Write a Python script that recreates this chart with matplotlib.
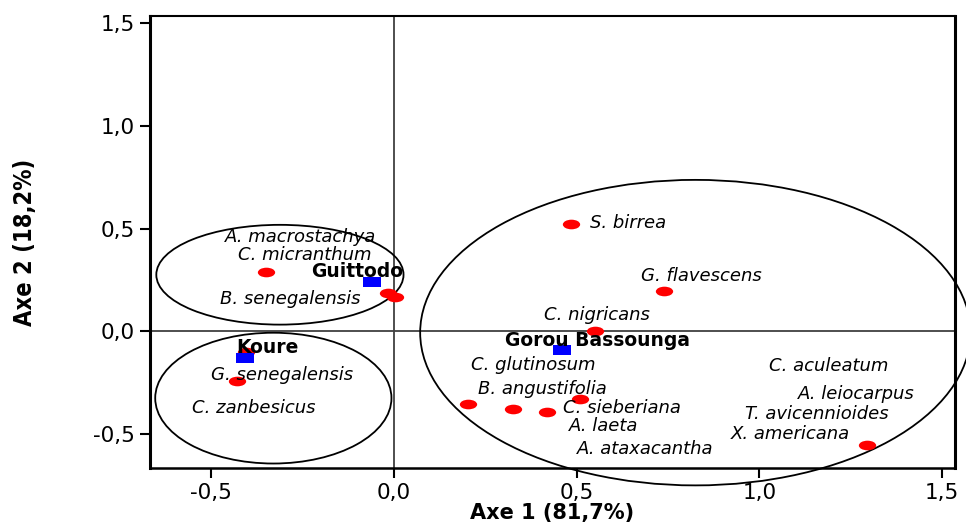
import matplotlib.pyplot as plt
from matplotlib.markers import MarkerStyle
from matplotlib.patches import Ellipse
from matplotlib.transforms import Affine2D

# Species points (Axe 1, Axe 2)
sp_x = [0.486, 0.740, 0.551, -0.349, -0.015, 0.004, -0.403, -0.428,
        0.204, 0.327, 0.420, 0.510, 1.293]
sp_y = [0.523, 0.197, 0.000, 0.289, 0.187, 0.168, -0.100, -0.245,
        -0.357, -0.377, -0.396, -0.328, -0.552]

# Sites
site_names = ["Guittodo", "Koure", "Gorou Bassounga"]
site_x = [-0.059, -0.406, 0.461]
site_y = [0.240, -0.129, -0.090]
site_lab_x = [-0.100, -0.346, 0.557]
site_lab_y = [0.289, -0.080, -0.046]

# Species labels
sp_names = ["A. macrostachya", "C. micranthum", "B. senegalensis",
            "G. senegalensis", "C. zanbesicus", "G. flavescens",
            "C. nigricans", "C. glutinosum", "C. aculeatum",
            "B. angustifolia", "A. leiocarpus", "C. sieberiana",
            "T. avicennioides", "A. laeta", "X. americana", "A. ataxacantha"]
sp_lab_x = [-0.255, -0.242, -0.283, -0.305, -0.382, 0.841, 0.557, 0.382,
            1.189, 0.406, 1.265, 0.623, 1.156, 0.573, 1.085, 0.688]
sp_lab_y = [0.458, 0.372, 0.158, -0.211, -0.372, 0.270, 0.080, -0.163,
            -0.168, -0.280, -0.304, -0.372, -0.401, -0.464, -0.503, -0.576]

# Groups (center x, center y, width, height)
groups = [(-0.311, 0.275, 0.676, 0.486),
          (-0.329, -0.326, 0.646, 0.637),
          (0.825, -0.007, 1.505, 1.488)]

fig = plt.figure(figsize=(9.66, 5.24), dpi=100)
ax = fig.add_axes([0.155, 0.107, 0.834, 0.862])

stretch = Affine2D().scale(1.8, 1.0)
ax.axhline(0, color="#404040", lw=1.3, zorder=1)
ax.axvline(0, color="#404040", lw=1.3, zorder=1)

for cx, cy, w, h in groups:
    ax.add_patch(Ellipse((cx, cy), w, h, fill=False, ec="black", lw=1.3,
                         clip_on=False, zorder=2))

ax.scatter(sp_x, sp_y, s=48, c="#ff0000",
           marker=MarkerStyle("o", transform=stretch), lw=0, zorder=3)
ax.scatter(site_x, site_y, s=48, c="#0000ff",
           marker=MarkerStyle("s", transform=stretch), lw=0, zorder=4)

for name, x, y in zip(sp_names, sp_lab_x, sp_lab_y):
    ax.text(x, y, name, style="italic", fontsize=13, ha="center",
            va="center", zorder=5)
ax.text(0.538, 0.527, "S. birrea", style="italic", fontsize=13,
        ha="left", va="center", zorder=5)
for name, x, y in zip(site_names, site_lab_x, site_lab_y):
    ax.text(x, y, name, fontweight="bold", fontsize=13.5, ha="center",
            va="center", zorder=5)

ax.set_xlim(-0.667, 1.536)
ax.set_ylim(-0.666, 1.534)
ax.set_xticks([-0.5, 0.0, 0.5, 1.0, 1.5])
ax.set_yticks([-0.5, 0.0, 0.5, 1.0, 1.5])
ax.set_xticklabels(["-0,5", "0,0", "0,5", "1,0", "1,5"])
ax.set_yticklabels(["-0,5", "0,0", "0,5", "1,0", "1,5"])
ax.tick_params(direction="out", length=7, width=1.5, labelsize=15.5, pad=4)

ax.spines["left"].set_linewidth(2.2)
ax.spines["right"].set_linewidth(2.2)
ax.spines["top"].set_linewidth(1.5)
ax.spines["bottom"].set_linewidth(1.8)

ax.set_xlabel("Axe 1 (81,7%)", fontsize=15, fontweight="bold", labelpad=0)
ax.set_ylabel("Axe 2 (18,2%)", fontsize=17, fontweight="bold",
              family="DejaVu Sans", fontstretch="condensed", labelpad=40)

fig.savefig("out.png", dpi=100)
